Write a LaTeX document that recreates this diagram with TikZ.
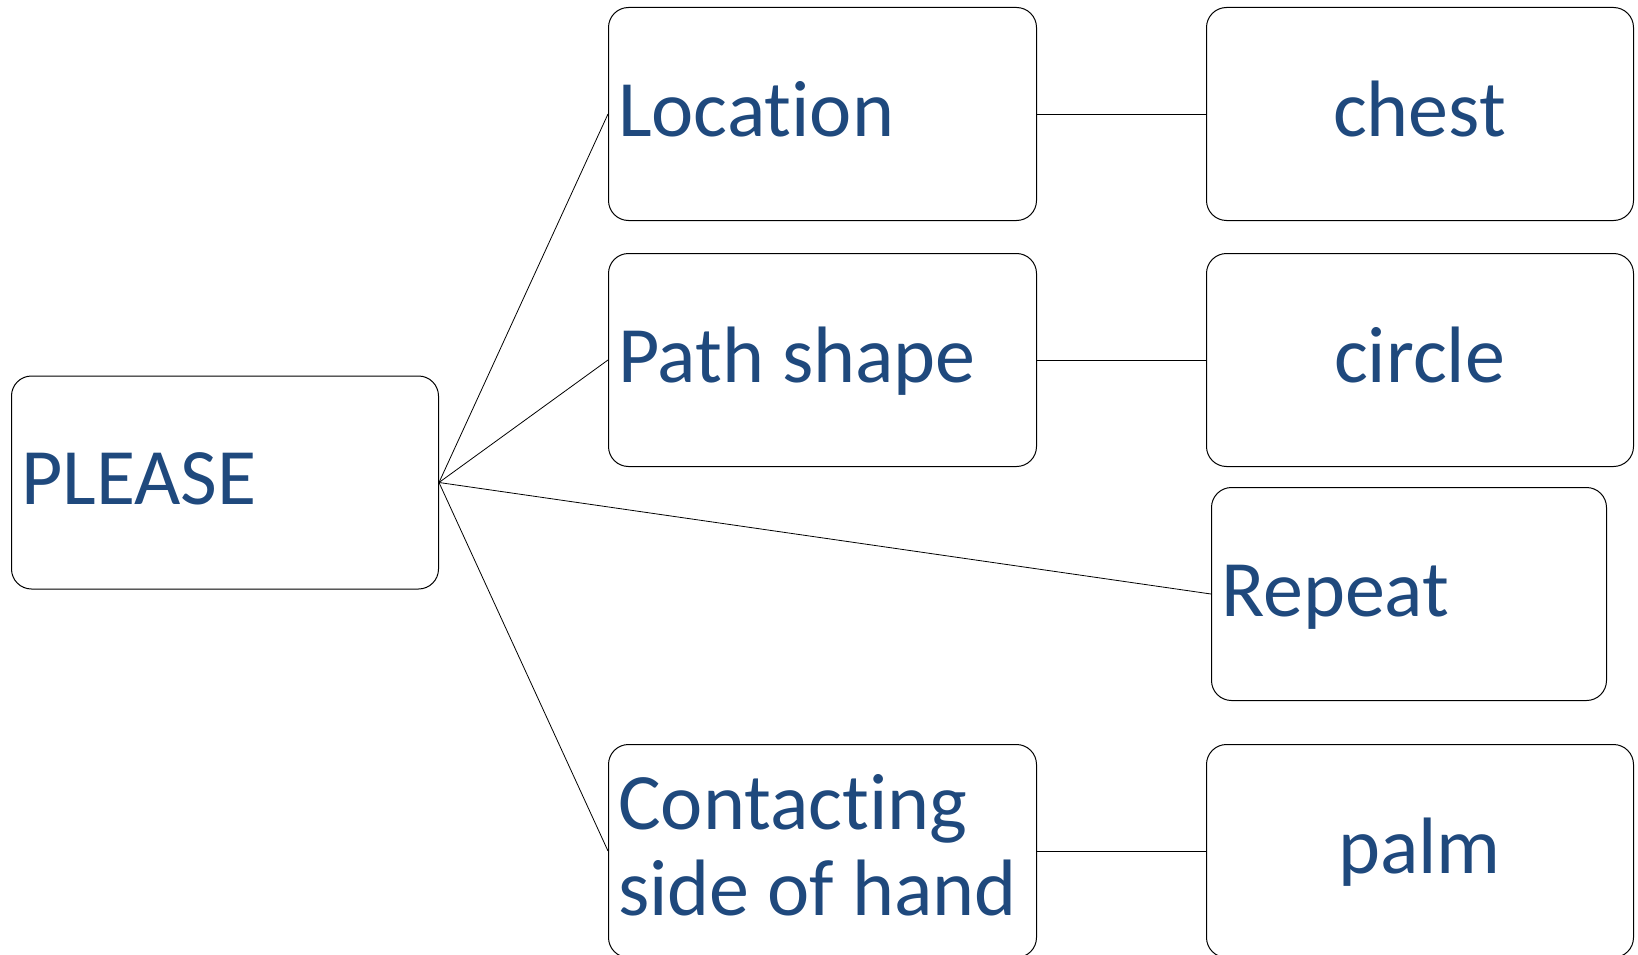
\documentclass[tikz,border=0pt]{standalone}
\usepackage{fontspec}
\setmainfont{Carlito}[Ligatures=NoCommon]
\definecolor{txt}{HTML}{1F497D}
\begin{document}
\begin{tikzpicture}[x=1pt,y=-1pt,
  box/.style={draw=black, line width=1pt, rounded corners=20pt, fill=white,
    minimum width=427pt, minimum height=213pt, inner sep=0pt, anchor=north west},
  lbl/.style={text=txt, font=\fontsize{80}{86}\selectfont, inner sep=0pt},
  conn/.style={draw=black, line width=0.8pt}]
\useasboundingbox (0,0) rectangle (1638,955);
% boxes
\node[box] (please) at (11,375.5) {};
\node[box, minimum width=428pt] (loc) at (608,7) {};
\node[box, minimum width=428pt] (path) at (608,253) {};
\node[box, minimum width=428pt] (cont) at (608,744) {};
\node[box] (chest) at (1206,7) {};
\node[box] (circ) at (1206,253) {};
\node[box, minimum width=395pt] (rep) at (1211,487) {};
\node[box] (palm) at (1206,744) {};
% connectors
\draw[conn] (please.east) -- (loc.west);
\draw[conn] (please.east) -- (path.west);
\draw[conn] (please.east) -- (rep.west);
\draw[conn] (please.east) -- (cont.west);
\draw[conn] (loc.east) -- (chest.west);
\draw[conn] (path.east) -- (circ.west);
\draw[conn] (cont.east) -- (palm.west);
% labels
\node[lbl, anchor=base west] (tplease) at (21,504) {PLEASE};
\node[lbl, anchor=base west] (tloc) at (618,137) {Location};
\node[lbl, anchor=base west] (tpath) at (618,382) {Path shape};
\node[lbl, anchor=base west] (tconta) at (618,829) {Contacting};
\node[lbl, anchor=base west] (tcontb) at (618,915) {side of hand};
\node[lbl, anchor=base west] (trep) at (1221,616) {Repeat};
\node[lbl, anchor=base] (tchest) at (1419.5,137) {chest};
\node[lbl, anchor=base] (tcirc) at (1419.5,382) {circle};
\node[lbl, anchor=base] (tpalm) at (1419.5,873) {palm};
\end{tikzpicture}
\end{document}
